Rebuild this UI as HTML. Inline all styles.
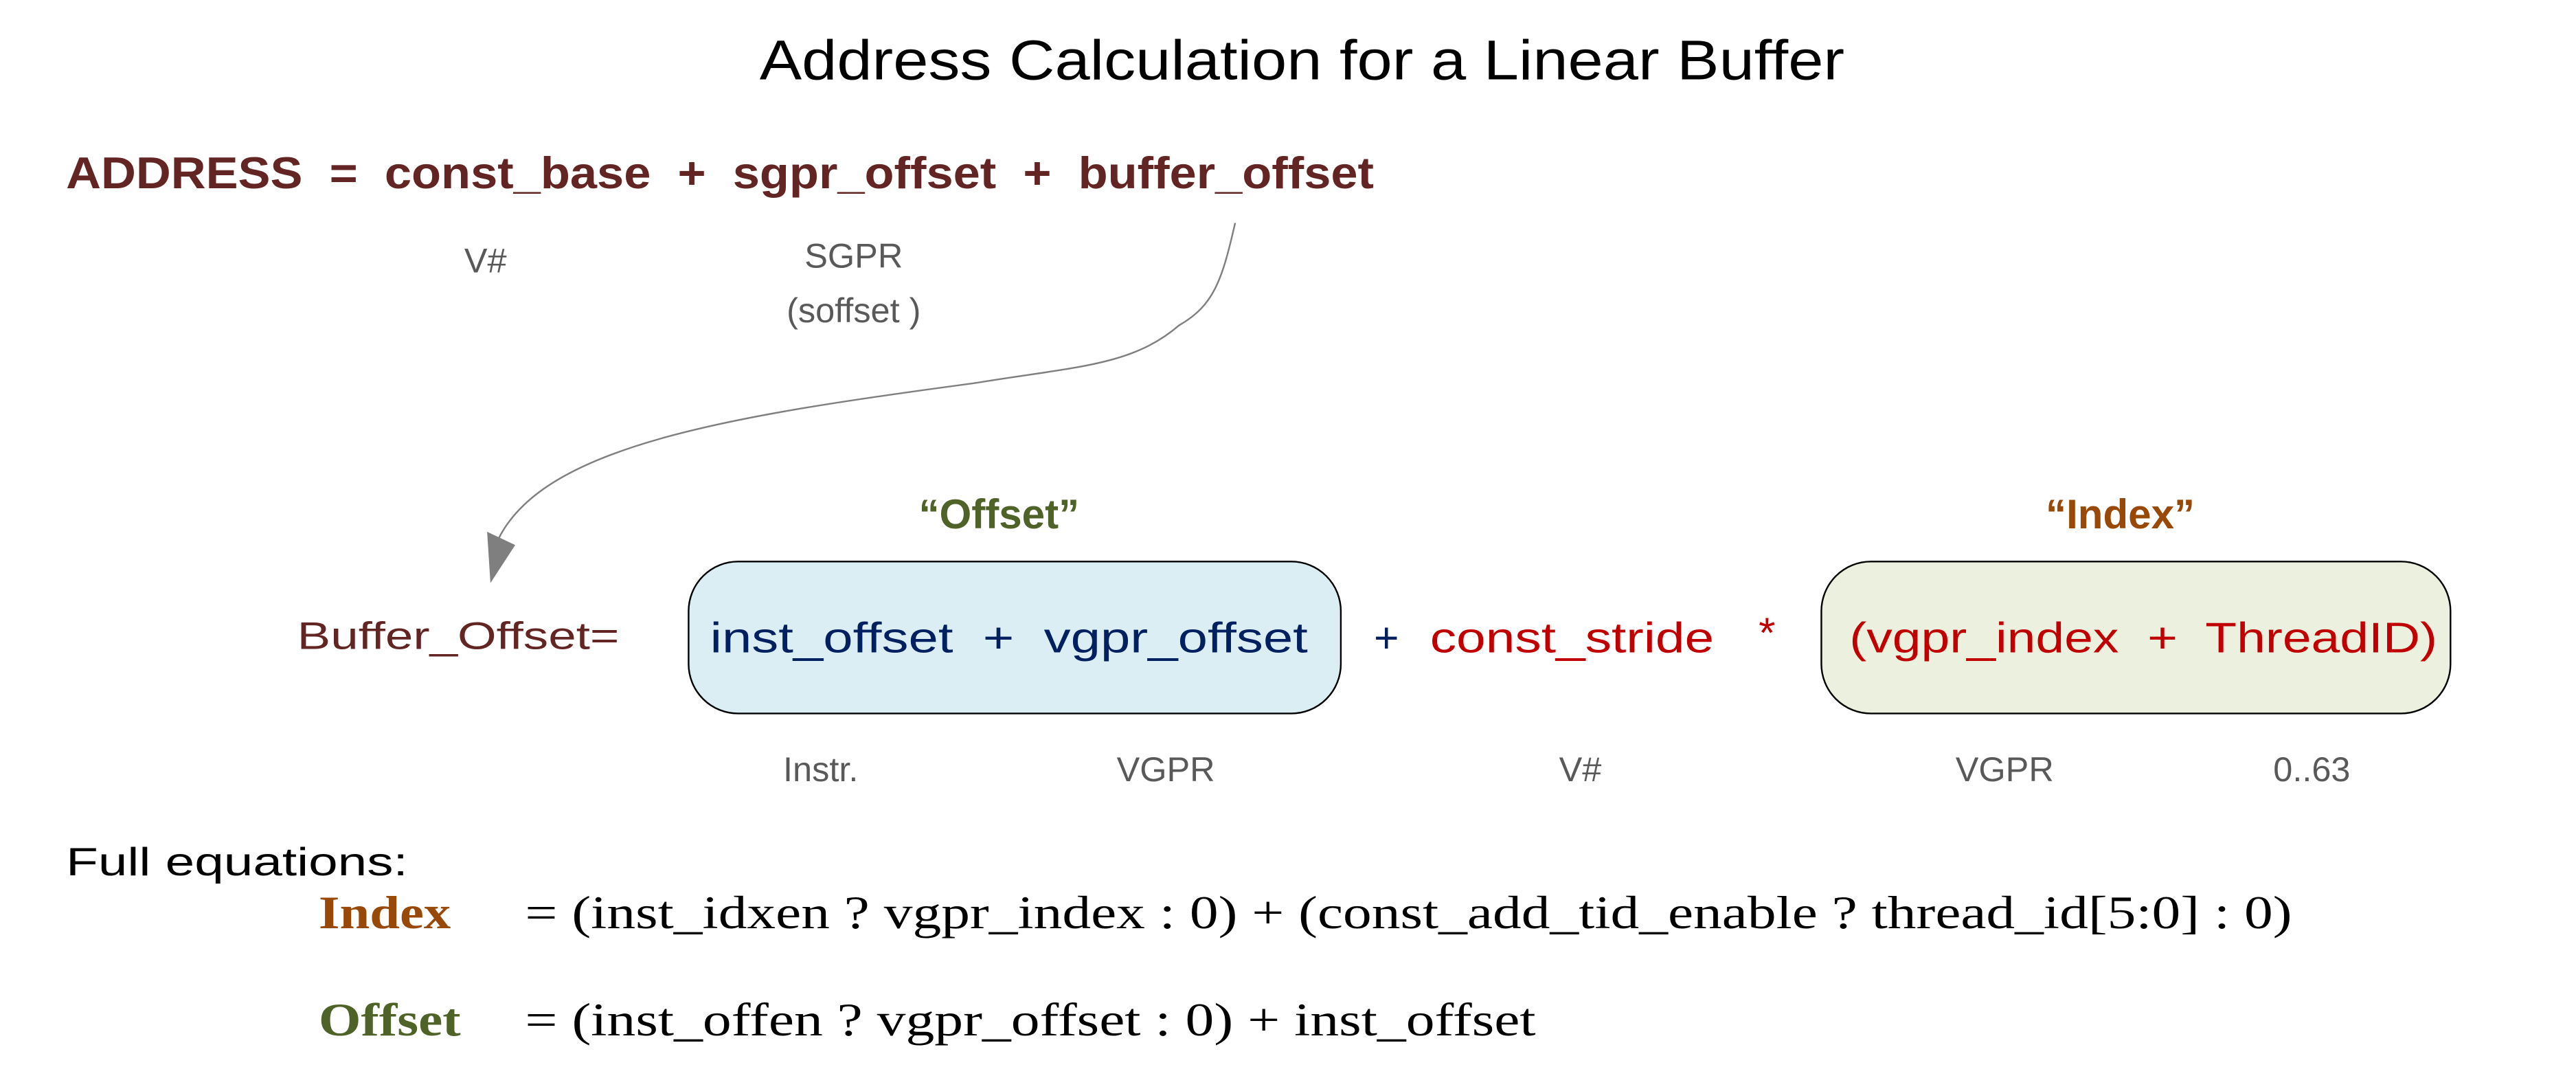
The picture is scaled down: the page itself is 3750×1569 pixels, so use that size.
<!DOCTYPE html>
<html><head><meta charset="utf-8"><style>
html,body{margin:0;padding:0;background:#fff;}
svg{display:block;}
</style></head><body>
<svg width="3750" height="1569" viewBox="0 0 1560 652.7" xmlns="http://www.w3.org/2000/svg">
<rect width="1560" height="652.7" fill="#fff"/>
<g font-family="Liberation Sans, sans-serif">
<text x="460" y="48" font-size="34" fill="#000" textLength="657" lengthAdjust="spacingAndGlyphs">Address Calculation for a Linear Buffer</text>
<text x="40" y="114" font-size="27" font-weight="bold" fill="#632523" textLength="792" lengthAdjust="spacingAndGlyphs" xml:space="preserve">ADDRESS  =  const_base  +  sgpr_offset  +  buffer_offset</text>
<text x="294" y="165" font-size="21" fill="#595959" text-anchor="middle">V#</text>
<text x="517" y="162" font-size="21" fill="#595959" text-anchor="middle">SGPR</text>
<text x="517" y="195" font-size="21" fill="#595959" text-anchor="middle">(soffset )</text>
<path d="M748,135 C740,170 735,185 714,197 C685,222 650,222 590,232 C440,252 330,270 302,326" fill="none" stroke="#7f7f7f" stroke-width="1"/>
<polygon points="295,322 312,330 297,353" fill="#7f7f7f"/>
<text x="605" y="320" font-size="25" font-weight="bold" fill="#4f6228" text-anchor="middle">“Offset”</text>
<text x="1284" y="320" font-size="25" font-weight="bold" fill="#984807" text-anchor="middle">“Index”</text>
<rect x="417" y="340" width="395" height="92" rx="30" ry="30" fill="#dbeef4" stroke="#000" stroke-width="1"/>
<rect x="1103" y="340" width="381" height="92" rx="30" ry="30" fill="#ebf1de" stroke="#000" stroke-width="1"/>
<text x="180" y="393" font-size="23" fill="#632523" textLength="195" lengthAdjust="spacingAndGlyphs">Buffer_Offset=</text>
<text x="430" y="395" font-size="26" fill="#002060" textLength="362" lengthAdjust="spacingAndGlyphs" xml:space="preserve">inst_offset  +  vgpr_offset</text>
<text x="832" y="395" font-size="26" fill="#002060">+</text>
<text x="866" y="395" font-size="26" fill="#c00000" textLength="172" lengthAdjust="spacingAndGlyphs">const_stride</text>
<text x="1065" y="392" font-size="26" fill="#c00000">*</text>
<text x="1120" y="395" font-size="26" fill="#c00000" textLength="356" lengthAdjust="spacingAndGlyphs" xml:space="preserve">(vgpr_index  +  ThreadID)</text>
<g font-size="21" fill="#595959" text-anchor="middle">
<text x="497" y="473">Instr.</text>
<text x="706" y="473">VGPR</text>
<text x="957" y="473">V#</text>
<text x="1214" y="473">VGPR</text>
<text x="1400" y="473">0..63</text>
</g>
<text x="40" y="530" font-size="24" fill="#000" textLength="207" lengthAdjust="spacingAndGlyphs">Full equations:</text>
</g>
<g font-family="Liberation Serif, serif" font-size="28">
<text x="193" y="562" font-weight="bold" fill="#984807" textLength="80" lengthAdjust="spacingAndGlyphs">Index</text>
<text x="318" y="562" fill="#000" textLength="1070" lengthAdjust="spacingAndGlyphs">= (inst_idxen ? vgpr_index : 0) + (const_add_tid_enable ? thread_id[5:0] : 0)</text>
<text x="193" y="627" font-weight="bold" fill="#4f6228" textLength="86" lengthAdjust="spacingAndGlyphs">Offset</text>
<text x="318" y="627" fill="#000" textLength="612" lengthAdjust="spacingAndGlyphs">= (inst_offen ? vgpr_offset : 0) + inst_offset</text>
</g>
</svg>
</body></html>
